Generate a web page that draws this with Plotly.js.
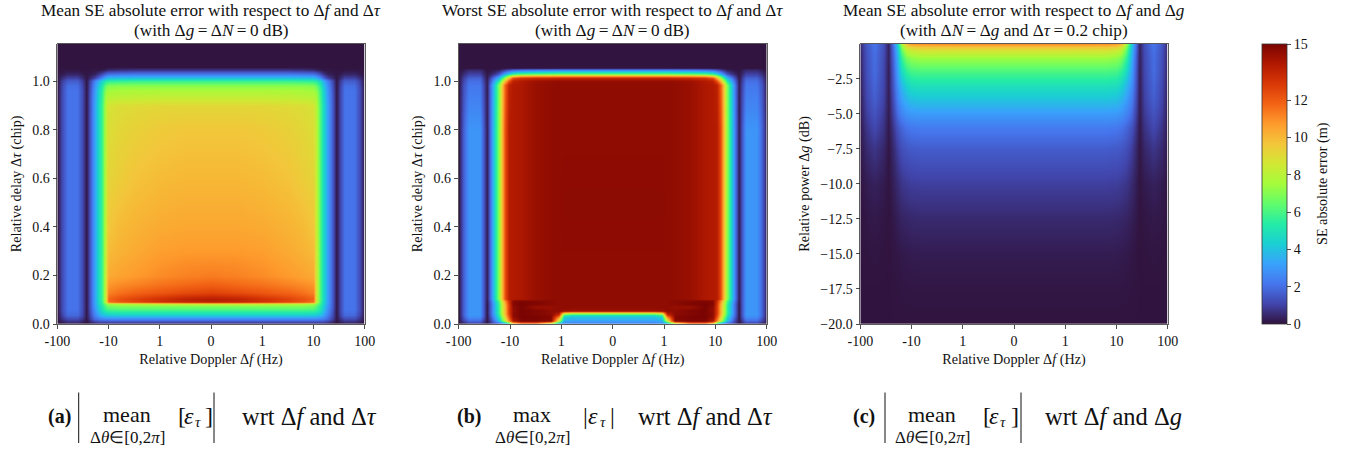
<!DOCTYPE html>
<html><head><meta charset="utf-8">
<script src="https://cdn.plot.ly/plotly-3.0.1.min.js"></script>
<style>html,body{margin:0;padding:0;background:#fff}</style></head>
<body><div id="chart" style="width:1348px;height:451px"></div>
<script>
// Turbo colour stops
const turbo = ["#30123b","#4145ab","#4675ed","#39a2fc","#1bcfd4","#24eca6","#61fc6c","#a4fc3b","#d1e834","#f3c63a","#fe9b2d","#f36315","#d93806","#b11901","#7a0402"];

// Tick labels
const dopplerTickVals = [-3,-2,-1,0,1,2,3];
const dopplerTickText = ["-100","-10","1","0","1","10","100"];
const delayTickVals = [0,0.2,0.4,0.6,0.8,1.0];
const delayTickText = ["0.0","0.2","0.4","0.6","0.8","1.0"];
const powerTickVals = [-20,-17.5,-15,-12.5,-10,-7.5,-5,-2.5];
const powerTickText = ["−20.0","−17.5","−15.0","−12.5","−10.0","−7.5","−5.0","−2.5"];
const cbarTickVals = [0,2,4,6,8,10,12,15];

// Panel (a): half-plane (symmetric in Doppler); x in symlog decades
const aX = [0,.5,1,1.5,1.8,2.0,2.06,2.13,2.2,2.27,2.36,2.44,2.52,2.6,2.8,2.9,3.0];
const aY = [0,.02,.04,.06,.075,.083,.09,.105,.13,.16,.2,.3,.4,.6,.8,.9,.925,.96,.98,1.0,1.015,1.03,1.045,1.06,1.154];
const aZ = [
[.3,.3,.3,.3,.3,.3,.3,.3,.3,.2,.1,0,.1,.2,.2,.1,0],
[2.6,2.6,2.6,2.6,2.6,2.6,2.5,2.5,2.3,1.9,1.0,.1,.7,1.2,1.2,.7,.1],
[4.4,4.4,4.4,4.4,4.4,4.3,4.2,3.9,3.3,2.4,1.3,.1,1.1,1.9,1.9,1.1,.1],
[6,6,6,6,6,5.9,5.6,5,4,2.8,1.5,.1,1.2,2.1,2.1,1.3,.1],
[7,7,7,7,7,6.8,6.2,5.3,4.3,3,1.6,.1,1.2,2.1,2.1,1.3,.1],
[8.5,8.5,8.3,8,7.8,7.5,6.8,5.6,4.5,3.1,1.6,.1,1.2,2.1,2.1,1.3,.1],
[13.7,13.5,13.1,12.5,12.1,11.5,8,5.9,4.6,3.2,1.6,.1,1.2,2.1,2.1,1.3,.1],
[13.8,13.6,13.1,12.6,12.2,11.8,8.3,6,4.7,3.2,1.6,.1,1.2,2.1,2.1,1.3,.1],
[12.6,12.4,12.1,11.8,11.5,11.2,8.4,6,4.7,3.2,1.6,.1,1.2,2.1,2.1,1.3,.1],
[11.9,11.7,11.5,11.2,11,10.8,8.4,6,4.7,3.2,1.6,.1,1.2,2.1,2.1,1.3,.1],
[11.3,11.2,11,10.7,10.5,10.3,8.4,6,4.7,3.2,1.6,.1,1.2,2.1,2.1,1.3,.1],
[10.7,10.7,10.6,10.3,10.1,9.9,8.3,6,4.7,3.2,1.6,.1,1.2,2.1,2.1,1.3,.1],
[10.4,10.4,10.3,10.1,9.9,9.6,8.2,6,4.7,3.2,1.6,.1,1.2,2.1,2.1,1.3,.1],
[10,10,9.9,9.7,9.4,9.2,8.1,6,4.7,3.2,1.6,.1,1.2,2.1,2.1,1.3,.1],
[9.6,9.6,9.5,9.3,9.1,8.9,8,6,4.7,3.2,1.6,.1,1.2,2.1,2.1,1.3,.1],
[9.1,9.1,9.1,9,8.9,8.7,7.8,6,4.7,3.2,1.6,.1,1.2,2.1,2.1,1.3,.1],
[8.5,8.5,8.5,8.4,8.3,8.2,7.6,5.9,4.6,3.1,1.6,.1,1.2,2.1,2.1,1.3,.1],
[7.7,7.7,7.7,7.7,7.6,7.5,7.1,5.7,4.4,3,1.5,.1,1.2,2.1,2.1,1.3,.1],
[7.1,7.1,7.1,7.1,7.1,7,6.5,5.4,4.1,2.8,1.4,.1,1.1,2,2,1.2,.1],
[5.7,5.7,5.7,5.7,5.6,5.5,5.2,4.5,3.5,2.4,1.2,.1,.9,1.6,1.6,1,.1],
[4,4,4,4,3.9,3.8,3.4,2.7,1.8,1,.5,.1,.5,1,1,.6,.1],
[2.2,2.2,2.2,2.2,2.1,2,1.7,1.2,.7,.3,.2,.1,.2,.4,.4,.2,.1],
[.7,.7,.7,.7,.6,.5,.3,.2,.1,.1,.1,.05,.05,.1,.1,.1,.05],
[.05,.05,.05,.05,.05,.05,.05,.05,.05,.05,.05,.05,.05,.05,.05,.05,.05],
[.05,.05,.05,.05,.05,.05,.05,.05,.05,.05,.05,.05,.05,.05,.05,.05,.05]
];

// Panel (b)
const bX = [0,.8,.95,1.05,1.2,1.5,1.8,1.95,2.03,2.1,2.16,2.23,2.3,2.38,2.45,2.52,2.6,2.8,2.9,3.0];
const bY = [0,.006,.015,.03,.04,.048,.055,.07,.085,.095,.105,.2,.5,.8,.985,1.0,1.012,1.022,1.032,1.045,1.055,1.154];
const bZ = [
[1.2,1.2,1.3,1.6,2.5,3,3,2.5,2,1.5,1,.7,.5,.3,0,.1,.2,.2,.1,0],
[2.5,2.5,2.7,4,9,12,12,10,6,4,3,2,1.5,.8,.1,.5,1,1,.5,.1],
[3.2,3.2,3.5,8,14.7,14.9,14.9,14,11,8,6,4,2.5,1.1,.1,.8,1.9,1.9,1.1,.1],
[4,4,4.5,11,14.8,15,15,14.5,12.2,9.2,7,5,3.2,1.6,.1,1.3,2.7,2.7,1.6,.1],
[5.2,5.2,6,13,14.7,14.9,15,14.6,12.6,9.7,7.7,5.5,3.6,1.8,.1,1.4,2.9,2.9,1.8,.1],
[8.5,8.5,9.5,14,14.6,14.8,15,14.6,12.8,10,8,5.8,3.8,1.9,.1,1.4,2.9,2.9,1.8,.1],
[14.3,14.3,14.4,14.6,14.6,14.9,15,14.5,12.8,10,8,5.8,3.8,1.9,.1,1.4,2.9,2.9,1.8,.1],
[14.6,14.6,14.6,14.6,14.4,14.4,15,14.6,12.8,10,8,5.8,3.8,1.9,.1,1.4,2.9,2.9,1.8,.1],
[14.6,14.6,14.6,14.6,14.7,14.9,15,14.8,12.9,10.2,8.2,5.9,3.9,1.9,.1,1.4,2.9,2.9,1.8,.1],
[14.6,14.6,14.6,14.6,14.7,14.8,14.9,14.7,13.2,10.8,8.6,6.3,4.2,2.1,.15,1.4,2.9,2.9,1.8,.1],
[14.6,14.6,14.6,14.6,14.55,14.4,14,13.9,13.8,12.2,9.8,7.2,4.8,2.4,.2,1.4,2.9,2.9,1.8,.1],
[14.6,14.6,14.6,14.6,14.55,14.4,14,13.9,13.8,12.2,9.8,7.2,4.8,2.4,.2,1.4,2.9,2.9,1.8,.1],
[14.65,14.65,14.65,14.6,14.55,14.4,14,13.9,13.8,12.2,9.8,7.2,4.8,2.4,.2,1.4,2.9,2.9,1.8,.1],
[14.6,14.6,14.6,14.6,14.55,14.4,14,13.9,13.8,12.2,9.8,7.2,4.8,2.4,.2,1.4,2.9,2.9,1.8,.1],
[14.6,14.6,14.6,14.6,14.55,14.4,14,13.9,13.6,11.8,9.5,7,4.6,2.3,.2,1.1,2.2,2.2,1.4,.1],
[14.5,14.5,14.5,14.5,14.45,14.3,13.9,13.6,12.2,9.8,7.5,5.3,3.5,1.8,.2,.9,2,2,1.2,.1],
[13.5,13.5,13.5,13.5,13.4,13.3,13,12.3,10,7.5,5.5,3.8,2.5,1.3,.15,.8,1.7,1.7,1,.1],
[10.5,10.5,10.5,10.5,10.4,10.3,10,9,7.5,5.5,4,2.6,1.6,.8,.1,.6,1.3,1.3,.8,.1],
[6.5,6.5,6.5,6.5,6.4,6.3,6,5.4,4.4,3.3,2.3,1.4,.8,.4,.1,.45,1,1,.6,.1],
[2.5,2.5,2.5,2.5,2.4,2.3,2.1,1.8,1.4,1,.6,.3,.2,.1,.05,.25,.5,.5,.25,.05],
[.05,.05,.05,.05,.05,.05,.05,.05,.05,.05,.05,.05,.05,.05,.05,.05,.05,.05,.05,.05],
[.05,.05,.05,.05,.05,.05,.05,.05,.05,.05,.05,.05,.05,.05,.05,.05,.05,.05,.05,.05]
];

// Panel (c)
const cX = [0,1,1.8,2.0,2.1,2.2,2.28,2.36,2.45,2.55,2.72,2.88,3.0];
const cY = [-20,-17.5,-15,-12.5,-10,-7.5,-6,-5,-4,-3,-2,-1,-.5,-.2,0];
const cZ = [
[.03,.03,.03,.03,.03,.03,.03,.03,.03,.03,.03,.03,.03],
[.1,.1,.1,.1,.09,.08,.06,.05,.03,.03,.03,.03,.03],
[.22,.22,.22,.21,.19,.16,.12,.08,.03,.05,.08,.06,.03],
[.5,.5,.5,.47,.43,.37,.27,.16,.04,.1,.16,.12,.05],
[.95,.95,.95,.92,.85,.74,.52,.3,.06,.2,.32,.22,.08],
[1.6,1.6,1.6,1.55,1.45,1.28,.95,.52,.1,.45,.75,.5,.15],
[2.3,2.3,2.3,2.22,2.1,1.8,1.4,.8,.15,.7,1.15,.75,.2],
[3.05,3.05,3.05,3,2.85,2.5,1.95,1.1,.2,.85,1.4,.95,.25],
[4,4,4,3.9,3.6,3.1,2.4,1.35,.22,1,1.65,1.1,.3],
[4.9,4.9,4.9,4.8,4.4,3.7,2.8,1.55,.25,1.1,1.8,1.2,.35],
[6,6,6,5.9,5.5,4.6,3.2,1.7,.25,1.15,1.95,1.3,.4],
[7.4,7.4,7.4,7.2,6.8,5.6,3.6,1.9,.3,1.2,2,1.35,.45],
[8.6,8.6,8.6,8.3,7.9,6.3,3.9,2.05,.3,1.25,2.05,1.4,.5],
[9.7,9.7,9.6,9.3,8.7,6.9,4.1,2.15,.3,1.3,2.1,1.45,.5],
[11,11,10.9,10.7,10,7.6,4.4,2.3,.3,1.3,2.15,1.5,.5]
];

const W = 1348, H = 451, FONT = "Liberation Serif, Times New Roman, serif";
const px = v => v / W, py = v => 1 - v / H;
const fullX = h => h.slice(1).map(v => -v).reverse().concat(h);
const fullRow = r => r.slice(1).reverse().concat(r);
const colorscale = turbo.map((c, i) => [i / (turbo.length - 1), c]);

const hm = (x, y, z, xa, ya) => ({type:"heatmap", x:fullX(x), y:y, z:z.map(fullRow), xaxis:xa, yaxis:ya,
  coloraxis:"coloraxis", zsmooth:"best", hoverinfo:"skip"});
const data = [hm(aX,aY,aZ,"x","y"), hm(bX,bY,bZ,"x2","y2"), hm(cX,cY,cZ,"x3","y3")];

const TICK = 14, LABEL = 14.2;
const tickBase = {ticks:"outside", ticklen:4, tickwidth:0.8, tickcolor:"#222", showline:true, mirror:true,
  linecolor:"#333", linewidth:0.8, showgrid:false, zeroline:false, automargin:false,
  tickfont:{family:FONT, size:TICK, color:"#111"}};
const xAx = (l, r) => Object.assign({}, tickBase, {domain:[px(l),px(r)], range:[-3,3], tickmode:"array",
  tickvals:dopplerTickVals, ticktext:dopplerTickText,
  title:{text:"Relative Doppler Δ<i>f</i> (Hz)", font:{family:FONT,size:LABEL,color:"#111"}, standoff:6}});
const yAx = (o) => Object.assign({}, tickBase, {domain:[py(324),py(43.7)], tickmode:"array"}, o);
const yTitleFont = {family:FONT,size:LABEL,color:"#111"};

const ann = (x, y, text, size, anchor, extra) => Object.assign({xref:"paper", yref:"paper", x:px(x), y:py(y), text, showarrow:false,
  xanchor:anchor||"center", yanchor:"middle", font:{family:FONT, size, color:"#111"}, align:"center"}, extra||{});

const TS = 17.2, TN = "\u2009";
const annotations = [
  ann(211,10,"Mean SE absolute error with respect to Δ<i>f</i> and Δ<i>τ</i>",TS),
  ann(211,30,`(with Δ<i>g</i>${TN}=${TN}Δ<i>N</i>${TN}=${TN}0 dB)`,TS),
  ann(612.5,10,"Worst SE absolute error with respect to Δ<i>f</i> and Δ<i>τ</i>",TS),
  ann(612.5,30,`(with Δ<i>g</i>${TN}=${TN}Δ<i>N</i>${TN}=${TN}0 dB)`,TS),
  ann(1014,10,"Mean SE absolute error with respect to Δ<i>f</i> and Δ<i>g</i>",TS),
  ann(1014,30,`(with Δ<i>N</i>${TN}=${TN}Δ<i>g</i> and Δ<i>τ</i>${TN}=${TN}0.2 chip)`,TS),
  ann(1322,184,"SE absolute error (m)",LABEL,"center",{textangle:-90}),
  // caption (a)
  ann(46,416,"<b>(a)</b>",20,"left"),
  ann(127,414,"mean",22),
  ann(127,437,"Δ<i>θ</i>∈[0,2<i>π</i>]",17),
  ann(175.5,416,"[",24,"left"), ann(181.5,416,"<i>ε</i>",24,"left"), ann(192.5,422,"<i>τ</i>",15,"left"), ann(203,416,"]",24,"left"),
  ann(240,416,"wrt Δ<i>f</i> and Δ<i>τ</i>",24.5,"left"),
  // caption (b)
  ann(455,416,"<b>(b)</b>",20,"left"),
  ann(532,414,"max",22),
  ann(532,437,"Δ<i>θ</i>∈[0,2<i>π</i>]",17),
  ann(581,416,"|",24,"left"), ann(586,416,"<i>ε</i>",24,"left"), ann(597.5,422,"<i>τ</i>",15,"left"), ann(607.5,416,"|",24,"left"),
  ann(636,416,"wrt Δ<i>f</i> and Δ<i>τ</i>",24.5,"left"),
  // caption (c)
  ann(851,416,"<b>(c)</b>",20,"left"),
  ann(932,414,"mean",22),
  ann(932,437,"Δ<i>θ</i>∈[0,2<i>π</i>]",17),
  ann(981,416,"[",24,"left"), ann(987,416,"<i>ε</i>",24,"left"), ann(998,422,"<i>τ</i>",15,"left"), ann(1008.5,416,"]",24,"left"),
  ann(1043,416,"wrt Δ<i>f</i> and Δ<i>g</i>",24.5,"left")
];
const bar = x => ({type:"line", xref:"paper", yref:"paper", x0:px(x), x1:px(x), y0:py(392.5), y1:py(443), line:{color:"#111",width:1}});

const layout = {
  width:W, height:H, margin:{l:0,r:0,t:0,b:0}, paper_bgcolor:"#fff", plot_bgcolor:"#fff", showlegend:false,
  font:{family:FONT,color:"#111"},
  xaxis:xAx(57.3,364.7), xaxis2:xAx(458.7,766.7), xaxis3:xAx(860.3,1167.7),
  yaxis:yAx({anchor:"x",range:[0,1.154],tickvals:delayTickVals,ticktext:delayTickText,title:{text:"Relative delay Δ<i>τ</i> (chip)",font:yTitleFont,standoff:7}}),
  yaxis2:yAx({anchor:"x2",range:[0,1.154],tickvals:delayTickVals,ticktext:delayTickText,title:{text:"Relative delay Δ<i>τ</i> (chip)",font:yTitleFont,standoff:7}}),
  yaxis3:yAx({anchor:"x3",range:[-20,0],tickvals:powerTickVals,ticktext:powerTickText,title:{text:"Relative power Δ<i>g</i> (dB)",font:yTitleFont,standoff:7}}),
  coloraxis:{cmin:0,cmax:15,colorscale:colorscale,colorbar:{
    x:px(1262), xanchor:"left", xref:"paper", y:py(324), yanchor:"bottom", yref:"paper",
    len:280.3, lenmode:"pixels", thickness:25, thicknessmode:"pixels", xpad:0, ypad:0,
    outlinecolor:"#333", outlinewidth:0.8, ticks:"outside", ticklen:4, tickwidth:0.8, tickcolor:"#222",
    tickmode:"array", tickvals:cbarTickVals, ticktext:cbarTickVals.map(String),
    tickfont:{family:FONT,size:TICK,color:"#111"}
  }},
  annotations:annotations,
  shapes:[bar(78.7),bar(214),bar(885),bar(1021)]
};
Plotly.newPlot("chart",data,layout,{displayModeBar:false,staticPlot:true});
</script></body></html>
